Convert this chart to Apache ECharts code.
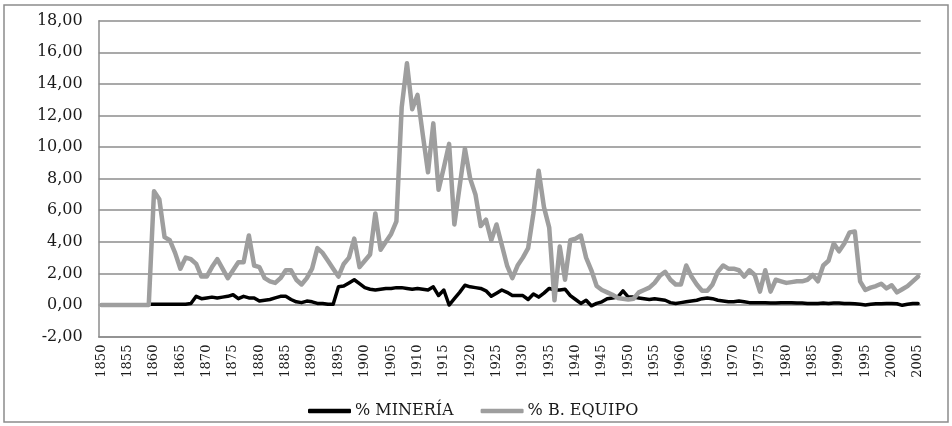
<!DOCTYPE html>
<html>
<head>
<meta charset="utf-8">
<script src="https://cdn.jsdelivr.net/npm/echarts@6/dist/echarts.min.js"></script>
<style>
html,body{margin:0;padding:0;background:#fff;}
#chart{width:952px;height:426px;}
</style>
</head>
<body>
<div id="chart"></div>
<script>
// Years 1850..2005
var startYear = 1850, endYear = 2005;
var years = [];
for (var y = startYear; y <= endYear; y++) years.push(String(y));

var seriesNames = ['% MINERÍA', '% B. EQUIPO'];

// % MINERÍA (1850-2005)
var mineria = [
  null,null,null,null,null,null,null,null,null,0.05,          // 1850-1859
  0.05,0.05,0.05,0.05,0.05,0.05,0.05,0.1,0.55,0.4,           // 1860-1869
  0.45,0.5,0.45,0.5,0.55,0.65,0.4,0.55,0.45,0.45,            // 1870-1879
  0.25,0.3,0.35,0.45,0.55,0.55,0.35,0.2,0.15,0.25,           // 1880-1889
  0.2,0.1,0.1,0.05,0.05,1.15,1.2,1.4,1.6,1.35,               // 1890-1899
  1.1,1.0,0.95,1.0,1.05,1.05,1.1,1.1,1.05,1.0,               // 1900-1909
  1.05,1.0,0.95,1.15,0.6,0.95,0.0,0.4,0.8,1.25,              // 1910-1919
  1.15,1.1,1.05,0.9,0.55,0.75,0.95,0.8,0.6,0.6,              // 1920-1929
  0.6,0.35,0.7,0.5,0.75,1.05,0.95,0.95,1.0,0.6,              // 1930-1939
  0.35,0.1,0.3,-0.05,0.1,0.2,0.4,0.45,0.5,0.9,               // 1940-1949
  0.5,0.5,0.45,0.4,0.35,0.4,0.35,0.3,0.15,0.1,               // 1950-1959
  0.15,0.2,0.25,0.3,0.4,0.45,0.4,0.3,0.25,0.2,               // 1960-1969
  0.2,0.25,0.2,0.15,0.15,0.15,0.15,0.12,0.12,0.15,           // 1970-1979
  0.15,0.15,0.12,0.12,0.1,0.1,0.1,0.12,0.1,0.12,             // 1980-1989
  0.12,0.1,0.1,0.08,0.05,0.0,0.05,0.08,0.08,0.1,             // 1990-1999
  0.1,0.08,-0.02,0.05,0.1,0.1                                // 2000-2005
];

// % B. EQUIPO (1850-2005)
var bEquipo = [
  0,0,0,0,0,0,0,0,0,0,                                       // 1850-1859
  7.2,6.7,4.3,4.1,3.3,2.3,3.0,2.9,2.6,1.8,                   // 1860-1869
  1.8,2.4,2.9,2.3,1.7,2.2,2.7,2.7,4.4,2.5,                   // 1870-1879
  2.4,1.7,1.5,1.4,1.7,2.2,2.2,1.6,1.3,1.7,                   // 1880-1889
  2.3,3.6,3.3,2.8,2.3,1.8,2.6,3.0,4.2,2.4,                   // 1890-1899
  2.8,3.2,5.8,3.5,4.0,4.5,5.3,12.5,15.3,12.4,                // 1900-1909
  13.3,10.8,8.4,11.5,7.3,8.7,10.2,5.1,7.5,9.9,               // 1910-1919
  8.0,7.0,5.0,5.4,4.1,5.1,3.8,2.5,1.7,2.5,                   // 1920-1929
  3.0,3.6,5.8,8.5,6.2,4.9,0.3,3.7,1.6,4.1,                   // 1930-1939
  4.2,4.4,3.0,2.2,1.2,0.95,0.8,0.65,0.45,0.4,                // 1940-1949
  0.35,0.4,0.8,0.95,1.1,1.4,1.85,2.1,1.6,1.3,                // 1950-1959
  1.3,2.5,1.8,1.3,0.9,0.9,1.3,2.1,2.5,2.3,                   // 1960-1969
  2.3,2.2,1.8,2.2,1.9,0.85,2.2,0.85,1.6,1.5,                 // 1970-1979
  1.4,1.45,1.5,1.5,1.6,1.9,1.5,2.5,2.8,3.9,                  // 1980-1989
  3.4,3.9,4.6,4.65,1.5,0.95,1.1,1.2,1.35,1.05,               // 1990-1999
  1.25,0.8,1.0,1.2,1.5,1.8                                   // 2000-2005
];

var yMin = -2, yMax = 18, yStep = 2;

var chart = echarts.init(document.getElementById('chart'), null, {renderer: 'canvas'});
var gridColor = '#8c8c8c';
var font = '"DejaVu Serif", "Liberation Serif", serif';

chart.setOption({
  animation: false,
  backgroundColor: '#ffffff',
  graphic: [{
    type: 'rect',
    shape: {x: 4, y: 5, width: 944, height: 417},
    style: {fill: 'none', stroke: '#8c8c8c', lineWidth: 1.5},
    silent: true,
    z: -10
  }],
  grid: {
    left: 98.7, right: 31.3, top: 20.7, bottom: 89.4,
    containLabel: false,
    outerBoundsMode: 'none'
  },
  legend: {
    data: [
      {name: seriesNames[0], icon: 'roundRect', itemStyle: {color: '#000000'}},
      {name: seriesNames[1], icon: 'roundRect', itemStyle: {color: '#9e9e9e'}}
    ],
    left: 303,
    top: 398,
    itemWidth: 43,
    itemHeight: 4.5,
    itemGap: 27,
    textStyle: {fontFamily: font, fontSize: 16, color: '#1a1a1a', padding: [0, 0, 0, -1]}
  },
  xAxis: {
    type: 'category',
    data: years,
    boundaryGap: true,
    axisLine: {show: true, onZero: false, lineStyle: {color: gridColor, width: 1.5}},
    axisTick: {show: false},
    axisLabel: {
      interval: 4,
      rotate: 90,
      margin: 8,
      fontFamily: font,
      fontSize: 13,
      color: '#1a1a1a'
    },
    splitLine: {show: false}
  },
  yAxis: {
    type: 'value',
    min: yMin, max: yMax, interval: yStep,
    axisLine: {show: true, lineStyle: {color: gridColor, width: 1.5}},
    axisTick: {show: false},
    axisLabel: {
      margin: 16,
      fontFamily: font,
      fontSize: 16,
      color: '#1a1a1a',
      formatter: function (v) { return v.toFixed(2).replace('.', ','); }
    },
    splitLine: {show: true, lineStyle: {color: gridColor, width: 1.5}}
  },
  series: [
    {
      name: seriesNames[0],
      type: 'line',
      data: mineria,
      symbol: 'none',
      showSymbol: false,
      connectNulls: false,
      itemStyle: {color: '#000000'},
      lineStyle: {color: '#000000', width: 3.5, cap: 'round', join: 'round'},
      z: 2
    },
    {
      name: seriesNames[1],
      type: 'line',
      data: bEquipo,
      symbol: 'none',
      showSymbol: false,
      itemStyle: {color: '#9e9e9e'},
      lineStyle: {color: '#9e9e9e', width: 4.5, cap: 'round', join: 'round'},
      z: 3
    }
  ]
});
</script>
</body>
</html>
